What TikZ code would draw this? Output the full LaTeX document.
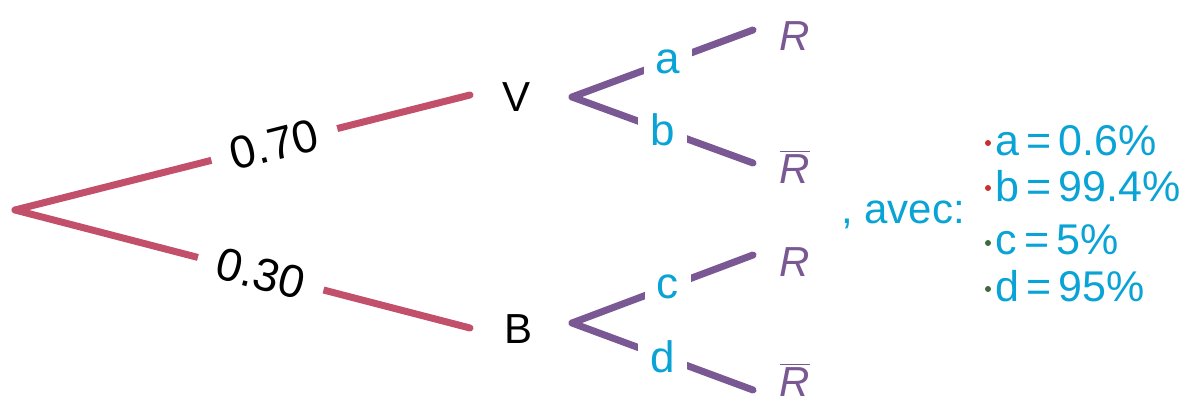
\documentclass[tikz,border=0pt]{standalone}
\usepackage{fontspec}
\setmainfont{Liberation Sans}
\definecolor{brred}{HTML}{C2506B}
\definecolor{brpur}{HTML}{7A5893}
\definecolor{txtblue}{HTML}{0AA3D6}
\definecolor{dotred}{HTML}{C8302C}
\definecolor{dotgreen}{HTML}{3D6B3B}
\begin{document}
\begin{tikzpicture}[x=0.5pt,y=-0.5pt,
  redbr/.style={draw=brred,line width=3.5pt,line cap=round},
  purbr/.style={draw=brpur,line width=3.5pt,line cap=round},
  problab/.style={fill=white,sloped,text=black,inner xsep=10pt,inner ysep=4pt,font=\fontsize{23}{23}\selectfont},
  letlab/.style={fill=white,text=txtblue,inner xsep=6pt,inner ysep=3pt,font=\fontsize{22}{22}\selectfont},
  evnode/.style={text=black,font=\fontsize{21}{21}\selectfont,inner sep=0pt},
  outnode/.style={text=brpur,font=\fontsize{21}{21}\selectfont\itshape,inner sep=0pt},
  listnode/.style={text=txtblue,font=\fontsize{21.5}{21.5}\selectfont,inner sep=0pt,anchor=west},
  bul/.style={circle,inner sep=0pt,minimum size=3pt}
]
\useasboundingbox (0,0) rectangle (1188,405);
\coordinate (root) at (15,210);
\coordinate (vin) at (470,95);
\coordinate (bin) at (470,328);
\node[evnode] (V) at (516,97) {V};
\node[evnode] (B) at (519,329) {B};
\coordinate (vout) at (572,97);
\coordinate (bout) at (572,323);
\coordinate (vr) at (753,30);
\coordinate (vrb) at (753,163);
\coordinate (br) at (753,255);
\coordinate (brb) at (753,390);
\node[outnode] (R1) at (795,36) {R};
\node[outnode] (R2) at (795,167) {$\overline{\mbox{\itshape R}}$};
\node[outnode] (R3) at (795,262) {R};
\node[outnode] (R4) at (795,380) {$\overline{\mbox{\itshape R}}$};

\draw[redbr] (root) -- node[problab,pos=0.57] (p1) {0.70} (vin);
\draw[redbr] (root) -- node[problab,pos=0.54] (p2) {0.30} (bin);
\draw[purbr] (vout) -- node[letlab,pos=0.53] (la) {a} (vr);
\draw[purbr] (vout) -- node[letlab,pos=0.5] (lb) {b} (vrb);
\draw[purbr] (bout) -- node[letlab,pos=0.53] (lc) {c} (br);
\draw[purbr] (bout) -- node[letlab,pos=0.5] (ld) {d} (brb);

\node[text=txtblue,font=\fontsize{21}{21}\selectfont,inner sep=0pt] (avec) at (903,215) {, avec:};

\node[bul,fill=dotred] (d1) at (988,143) {};
\node[bul,fill=dotred] (d2) at (988,188) {};
\node[bul,fill=dotgreen] (d3) at (988,243) {};
\node[bul,fill=dotgreen] (d4) at (988,289) {};
\node[listnode] (t1) at (995,141) {a\,=\,0.6\%};
\node[listnode] (t2) at (995,186) {b\,=\,99.4\%};
\node[listnode] (t3) at (995,240) {c\,=\,5\%};
\node[listnode] (t4) at (995,286) {d\,=\,95\%};
\end{tikzpicture}
\end{document}
